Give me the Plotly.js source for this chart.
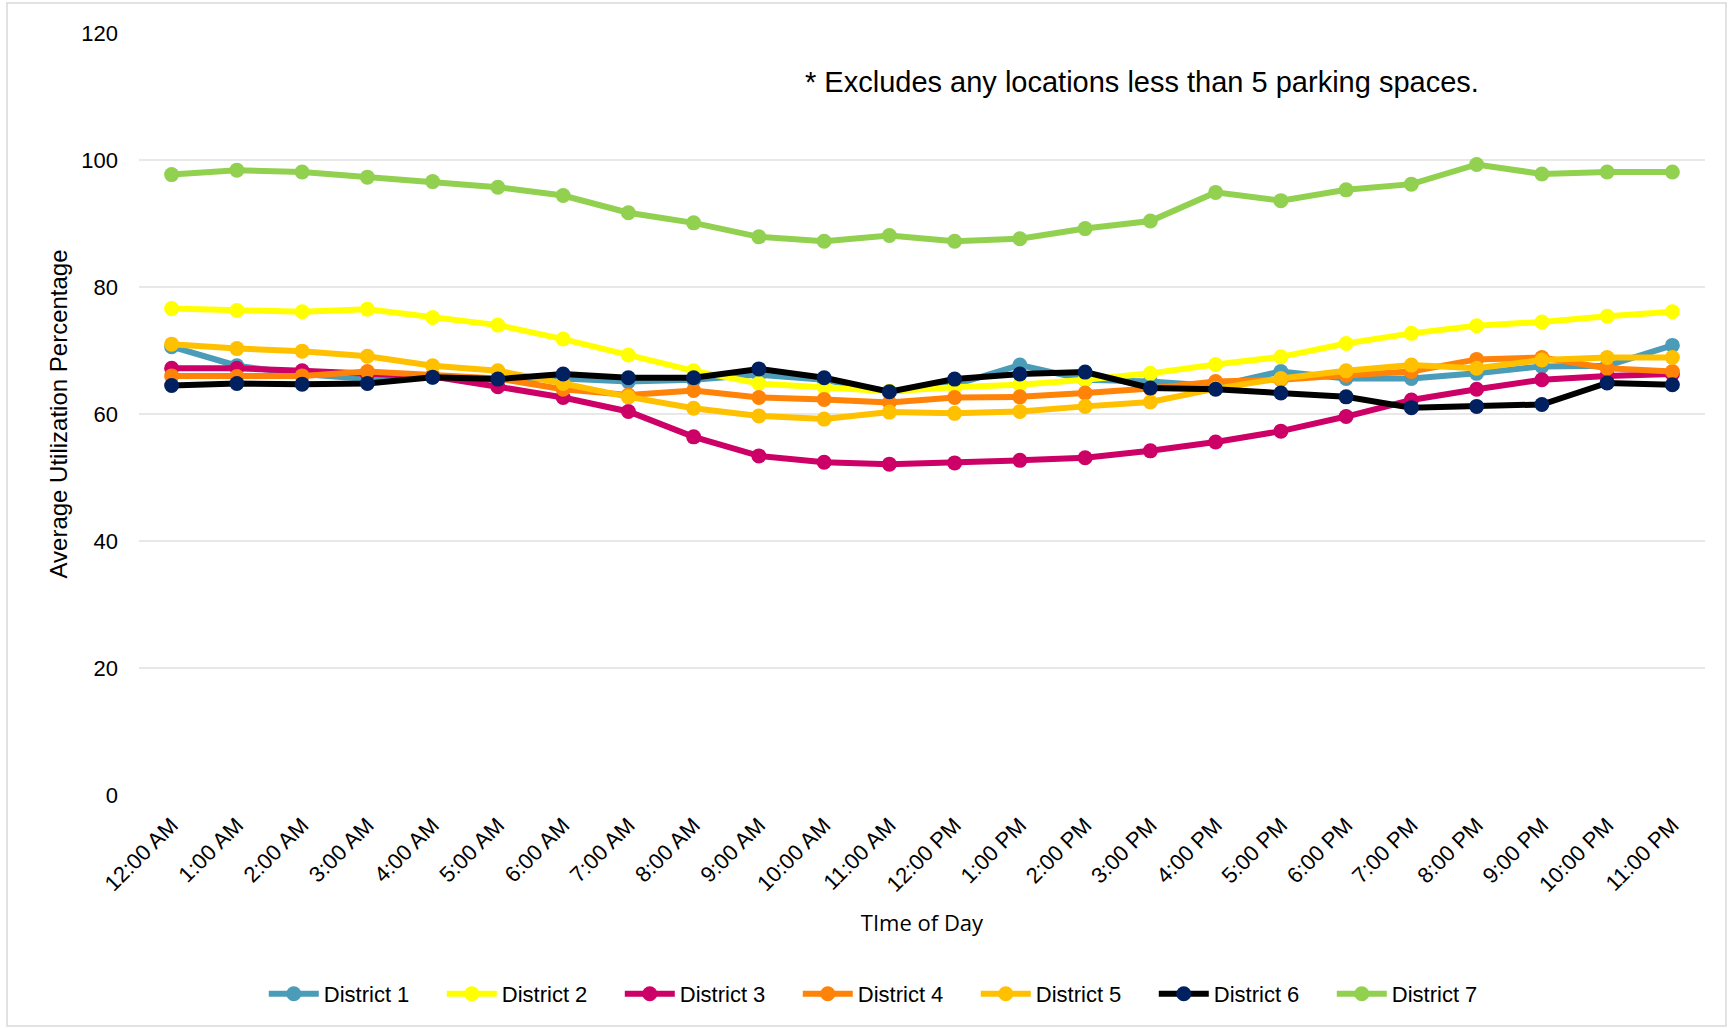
<!DOCTYPE html>
<html>
<head>
<meta charset="utf-8">
<script src="https://cdn.plot.ly/plotly-3.0.1.min.js"></script>
<style>html,body{margin:0;padding:0;background:#fff;}#chart{width:1732px;height:1029px;}</style>
</head>
<body>
<div id="chart"></div>
<script>
const hours = ["12:00 AM","1:00 AM","2:00 AM","3:00 AM","4:00 AM","5:00 AM","6:00 AM","7:00 AM","8:00 AM","9:00 AM","10:00 AM","11:00 AM","12:00 PM","1:00 PM","2:00 PM","3:00 PM","4:00 PM","5:00 PM","6:00 PM","7:00 PM","8:00 PM","9:00 PM","10:00 PM","11:00 PM"];
const district1 = [70.6,67.6,66.3,65.5,65.8,65.4,65.6,65.1,65.4,66.2,65.4,63.5,64.6,67.7,65.4,65.1,64.4,66.7,65.6,65.6,66.4,67.5,67.6,70.8];
const district2 = [76.6,76.3,76.1,76.5,75.2,74.0,71.8,69.3,66.8,64.8,64.2,63.6,64.2,64.6,65.4,66.4,67.8,69.0,71.1,72.7,73.9,74.5,75.4,76.1];
const district3 = [67.2,67.2,66.8,66.3,65.9,64.3,62.6,60.4,56.4,53.4,52.4,52.1,52.3,52.7,53.1,54.2,55.6,57.3,59.6,62.2,63.9,65.4,66.0,66.3];
const district4 = [66.0,65.9,66.0,66.7,66.1,65.6,63.9,63.0,63.7,62.6,62.3,61.8,62.6,62.7,63.3,64.0,65.1,65.4,66.1,66.7,68.6,68.9,67.2,66.7];
const district5 = [71.0,70.3,69.9,69.1,67.6,66.8,64.8,62.7,60.9,59.7,59.2,60.3,60.1,60.4,61.2,61.9,64.0,65.6,66.8,67.7,67.2,68.5,68.9,68.9];
const district6 = [64.5,64.8,64.7,64.8,65.8,65.5,66.3,65.7,65.7,67.1,65.7,63.5,65.5,66.3,66.6,64.1,63.9,63.3,62.7,61.0,61.2,61.5,64.9,64.6];
const district7 = [97.7,98.4,98.1,97.3,96.6,95.7,94.4,91.7,90.1,87.9,87.2,88.1,87.2,87.6,89.2,90.4,94.9,93.6,95.3,96.2,99.3,97.8,98.1,98.1];
const yTicks = [0,20,40,60,80,100,120];
const names = ["District 1","District 2","District 3","District 4","District 5","District 6","District 7"];
const series = [district1,district2,district3,district4,district5,district6,district7];
const lineColors = ["#4A9CB8","#FFFF00","#CC0066","#FF8308","#FFC000","#000000","#92D050"];
const markerColors = ["#4A9CB8","#FFFF00","#CC0066","#FF8308","#FFC000","#002060","#92D050"];

const traces = series.map((s,i)=>({
  type:"scatter", mode:"lines+markers", name:names[i], x:hours, y:s,
  line:{color:lineColors[i], width:6},
  marker:{color:markerColors[i], size:15}
}));

const layout = {
  width:1732, height:1029,
  paper_bgcolor:"#ffffff", plot_bgcolor:"#ffffff",
  margin:{l:139, r:27, t:33, b:234},
  font:{family:"Liberation Sans, Arial, sans-serif", color:"#000"},
  showlegend:true,
  legend:{orientation:"h", x:0.512, xanchor:"center", xref:"container", y:0.034, yanchor:"middle", yref:"container",
    font:{size:22, family:"Liberation Sans, Arial, sans-serif"}, entrywidth:113, entrywidthmode:"pixels", itemwidth:50, traceorder:"normal"},
  xaxis:{type:"category", tickangle:-45, tickfont:{size:22}, showgrid:false, zeroline:false, showline:false, ticks:"",
    range:[-0.5,23.5], automargin:false, ticklabelstandoff:12,
    title:{text:"TIme of Day", font:{size:22, family:"Open Sans, sans-serif"}, standoff:19}},
  yaxis:{range:[0,120], tickvals:yTicks, ticktext:yTicks.map(String), tickfont:{size:22}, showgrid:true, gridcolor:"#E8E8E8", gridwidth:1.5,
    zeroline:false, showline:false, ticks:"", ticklabelstandoff:20, automargin:false,
    title:{text:"Average Utilization Percentage", font:{size:24}, standoff:6}},
  annotations:[{text:"* Excludes any locations less than 5 parking spaces.", xref:"paper", yref:"paper",
    x:(803-139)/(1705-139), y:(795-82)/(795-33), xanchor:"left", yanchor:"middle", showarrow:false,
    font:{size:29, family:"Liberation Sans, Arial, sans-serif"}}],
  shapes:[{type:"rect", xref:"paper", yref:"paper", x0:(7-139)/1566, x1:(1726-139)/1566, y0:(795-1026)/762, y1:(795-3)/762,
    line:{color:"#D9D9D9", width:1.5}, fillcolor:"rgba(0,0,0,0)", layer:"below"}]
};

Plotly.newPlot("chart", traces, layout, {staticPlot:true, displayModeBar:false});
</script>
</body>
</html>
